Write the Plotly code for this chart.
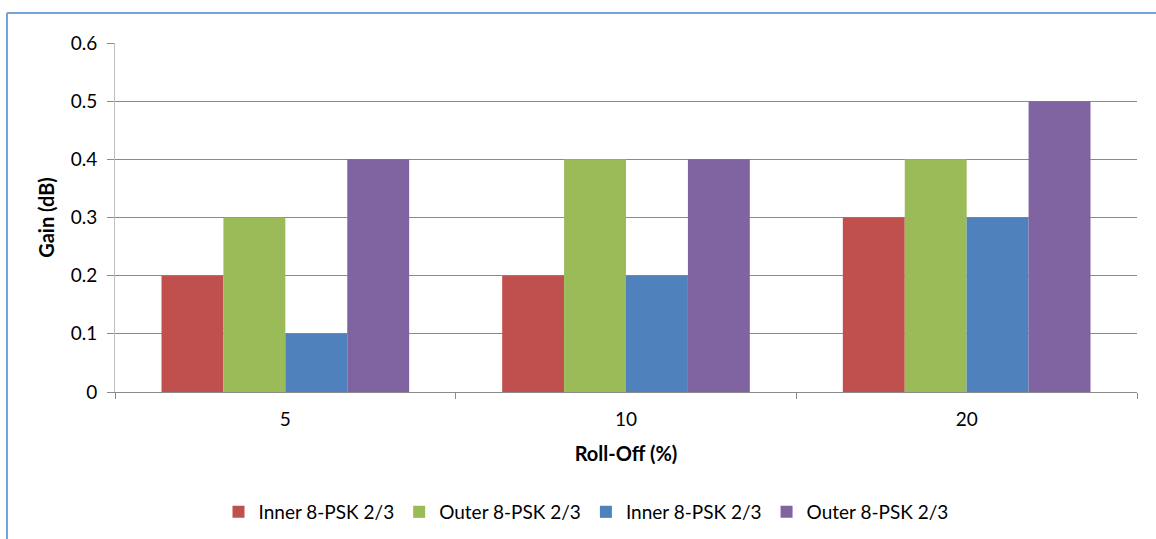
import plotly.graph_objects as go

categories = ["5", "10", "20"]
series_names = ["Inner 8-PSK 2/3", "Outer 8-PSK 2/3", "Inner 8-PSK 2/3", "Outer 8-PSK 2/3"]
inner1 = [0.2, 0.2, 0.3]
outer1 = [0.3, 0.4, 0.4]
inner2 = [0.1, 0.2, 0.3]
outer2 = [0.4, 0.4, 0.5]
colors = ["#C0504D", "#9BBB59", "#4F81BD", "#8064A2"]
y_ticks = [0, 0.1, 0.2, 0.3, 0.4, 0.5, 0.6]
y_ticktext = ["0", "0.1", "0.2", "0.3", "0.4", "0.5", "0.6"]

FONT = "Lato, 'Noto Sans', sans-serif"

fig = go.Figure()
for name, vals, col in zip(series_names, [inner1, outer1, inner2, outer2], colors):
    fig.add_trace(go.Bar(x=categories, y=vals, name=name, marker=dict(color=col, line=dict(width=0))))

W, H = 1156, 539
L, R, T, B = 115, 19, 43, 147
pw = W - L - R
ph = H - T - B

def px(x):
    return (x - L) / pw

def py(y):
    return (H - B - y) / ph

fig.update_layout(
    width=W, height=H,
    margin=dict(l=L, r=R, t=T, b=B, autoexpand=False),
    paper_bgcolor="white", plot_bgcolor="white",
    barmode="group", bargap=0.273, bargroupgap=0,
    font=dict(family=FONT, size=19, color="#000000"),
    legend=dict(orientation="h", xref="container", yref="container",
                x=586 / W, xanchor="center", y=1 - 512 / H, yanchor="middle",
                font=dict(size=19), itemwidth=30, traceorder="normal", itemsizing="constant"),
    shapes=[
        dict(type="line", xref="paper", yref="paper", x0=px(7), x1=px(1156), y0=py(13), y1=py(13),
             line=dict(color="#74A3DA", width=2)),
        dict(type="line", xref="paper", yref="paper", x0=px(7), x1=px(7), y0=py(13), y1=py(539),
             line=dict(color="#74A3DA", width=2)),
    ],
)
fig.update_xaxes(
    type="category", showgrid=False, showline=True, linecolor="#8C8C8C", linewidth=1,
    ticks="outside", tickson="boundaries", ticklen=6, tickcolor="#8C8C8C",
    tickfont=dict(size=19), ticklabelstandoff=10, automargin=False,
    title=dict(text="<b>Roll-Off (%)</b>", font=dict(size=20), standoff=18),
)
fig.update_yaxes(
    range=[0, 0.6], tickvals=y_ticks, ticktext=y_ticktext,
    showgrid=True, gridcolor="#8A8A8A", gridwidth=1,
    showline=True, linecolor="#BFBFBF", linewidth=1,
    ticks="outside", ticklen=7, tickcolor="#8A8A8A",
    tickfont=dict(size=19), zeroline=False, ticklabelstandoff=6, automargin=False,
    title=dict(text="<b>Gain (dB)</b>", font=dict(size=20), standoff=10),
)

fig.write_html("out.html", config={"displayModeBar": False},
               post_script="document.body.style.margin='0';document.body.style.padding='0';")
